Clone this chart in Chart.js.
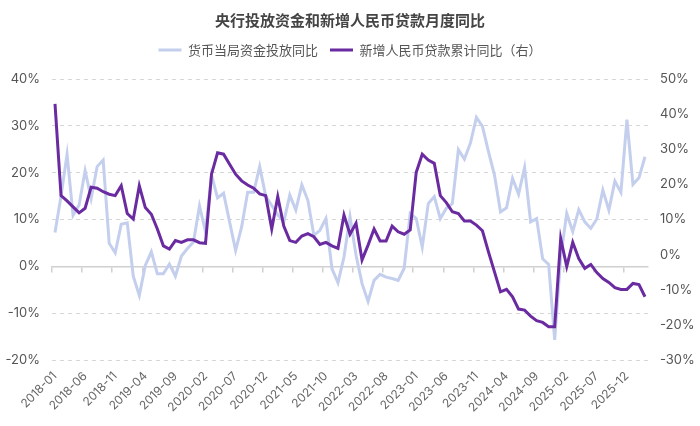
<!DOCTYPE html>
<html>
<head>
<meta charset="utf-8">
<script src="https://cdn.jsdelivr.net/npm/chart.js@4.4.1/dist/chart.umd.min.js"></script>
<style>
  html, body { margin: 0; padding: 0; background: #ffffff; }
  #wrap { width: 700px; height: 426px; position: relative; }
</style>
</head>
<body>
<div id="wrap"><canvas id="c"></canvas></div>
<script>
const months = [
  "2018-01","2018-02","2018-03","2018-04","2018-05","2018-06","2018-07","2018-08","2018-09","2018-10","2018-11","2018-12",
  "2019-01","2019-02","2019-03","2019-04","2019-05","2019-06","2019-07","2019-08","2019-09","2019-10","2019-11","2019-12",
  "2020-01","2020-02","2020-03","2020-04","2020-05","2020-06","2020-07","2020-08","2020-09","2020-10","2020-11","2020-12",
  "2021-01","2021-02","2021-03","2021-04","2021-05","2021-06","2021-07","2021-08","2021-09","2021-10","2021-11","2021-12",
  "2022-01","2022-02","2022-03","2022-04","2022-05","2022-06","2022-07","2022-08","2022-09","2022-10","2022-11","2022-12",
  "2023-01","2023-02","2023-03","2023-04","2023-05","2023-06","2023-07","2023-08","2023-09","2023-10","2023-11","2023-12",
  "2024-01","2024-02","2024-03","2024-04","2024-05","2024-06","2024-07","2024-08","2024-09","2024-10","2024-11","2024-12",
  "2025-01","2025-02","2025-03","2025-04","2025-05","2025-06","2025-07","2025-08","2025-09","2025-10","2025-11","2025-12",
  "2026-01","2026-02","2026-03"
];

// 货币当局资金投放同比 (left axis, %)
const pbocInjection = [
  7.2, 15.0, 23.9, 10.9, 13.1, 20.4, 14.5, 21.3, 22.7, 4.9, 2.9, 9.0,
  9.3, -2.1, -6.2, 0.2, 3.1, -1.6, -1.6, 0.5, -2.1, 2.2, 3.8, 5.2,
  12.9, 7.4, 19.5, 14.6, 15.6, 9.5, 3.4, 8.4, 15.8, 15.8, 21.3, 15.0,
  13.0, 11.0, 9.5, 15.2, 12.0, 17.4, 14.1, 6.6, 7.7, 10.2, -0.5, -3.5,
  2.0, 10.6, 2.4, -3.7, -7.5, -3.0, -1.7, -2.3, -2.6, -3.0, -0.4, 11.3,
  10.2, 4.1, 13.4, 14.9, 10.2, 12.4, 13.4, 24.9, 22.9, 26.3, 31.8, 29.9,
  24.5, 19.5, 11.6, 12.5, 18.8, 15.4, 21.1, 9.5, 10.2, 1.6, 0.4, -15.7,
  2.0, 11.3, 7.4, 12.1, 9.5, 8.1, 10.1, 16.3, 12.0, 18.2, 15.8, 31.3,
  17.5, 18.9, 23.4
];

// 新增人民币贷款累计同比 (right axis, %)
const newLoansCum = [
  42.9, 16.8, 15.3, 13.6, 11.9, 13.2, 19.2, 18.9, 17.9, 17.2, 16.8, 19.6,
  11.7, 10.1, 19.6, 13.4, 11.5, 7.3, 2.5, 1.6, 4.0, 3.5, 4.2, 4.2,
  3.4, 3.2, 22.9, 29.0, 28.6, 25.7, 22.9, 21.0, 19.8, 18.9, 17.3, 16.8,
  7.3, 16.5, 8.1, 4.0, 3.5, 5.3, 6.0, 5.1, 2.9, 3.5, 2.5, 1.8,
  11.3, 5.8, 8.9, -1.5, 2.7, 7.3, 3.9, 3.9, 8.1, 6.5, 5.8, 7.0,
  23.4, 28.6, 26.9, 26.0, 16.8, 14.8, 12.2, 11.7, 9.6, 9.6, 8.4, 6.8,
  0.8, -4.9, -10.6, -9.9, -12.0, -15.5, -15.8, -17.5, -18.8, -19.3, -20.5, -20.5,
  4.6, -3.4, 3.5, -1.1, -3.9, -2.8, -5.1, -6.8, -7.9, -9.4, -9.9, -9.9,
  -8.2, -8.5, -12.0
];

const leftTicks = { min: -20, max: 40, step: 10 };
const rightTicks = { min: -30, max: 50, step: 10 };
const seriesNames = ["货币当局资金投放同比", "新增人民币贷款累计同比（右）"];
const titleText = "央行投放资金和新增人民币贷款月度同比";
const labelEvery = 5;

const numFont = "Inter, 'Noto Sans', 'DejaVu Sans', sans-serif";
const cjkFont = "'Noto Sans CJK SC', 'Noto Sans', sans-serif";

const legendSpacer = {
  id: 'legendSpacer',
  beforeLayout(chart) {
    const lg = chart.legend;
    if (lg && !lg._spaced) {
      const f = lg.fit;
      lg.fit = function () { f.call(this); this.height += 12.5; };
      lg._spaced = true;
    }
  }
};

new Chart(document.getElementById('c'), {
  type: 'line',
  data: {
    labels: months,
    datasets: [
      {
        label: seriesNames[0],
        data: pbocInjection,
        yAxisID: 'y',
        xAxisID: 'x',
        borderColor: '#c4cfee',
        backgroundColor: '#c4cfee',
        borderWidth: 3,
        pointRadius: 0,
        tension: 0,
        order: 1
      },
      {
        label: seriesNames[1],
        data: newLoansCum,
        yAxisID: 'y1',
        xAxisID: 'x',
        borderColor: '#6a2ba1',
        backgroundColor: '#6a2ba1',
        borderWidth: 3,
        pointRadius: 0,
        tension: 0,
        order: 0
      }
    ]
  },
  options: {
    responsive: true,
    maintainAspectRatio: false,
    animation: false,
    layout: { padding: 0 },
    plugins: {
      tooltip: { enabled: false },
      title: {
        display: true,
        text: titleText,
        color: '#444444',
        font: { family: cjkFont, size: 15, weight: 'bold' },
        padding: { top: 11, bottom: 2.5 }
      },
      legend: {
        display: true,
        position: 'top',
        labels: {
          boxWidth: 23,
          boxHeight: 3,
          padding: 12,
          color: '#555555',
          font: { family: cjkFont, size: 13 },
          sort: (a, b) => a.datasetIndex - b.datasetIndex,
          generateLabels(chart) {
            const items = Chart.defaults.plugins.legend.labels.generateLabels(chart);
            items.forEach(it => { it.lineWidth = 0; });
            return items;
          }
        }
      }
    },
    scales: {
      x: {
        type: 'category',
        position: 'bottom',
        offset: true,
        grid: { display: false, drawTicks: false },
        border: { display: false },
        ticks: {
          autoSkip: false,
          maxRotation: 45,
          minRotation: 45,
          padding: 9,
          color: '#666666',
          font: { family: numFont, size: 12 },
          callback: function (val, idx) { return idx % labelEvery === 0 ? months[idx] : ''; }
        },
        afterFit(s) { s.height = 66; }
      },
      x2: {
        type: 'category',
        axis: 'x',
        labels: months,
        position: { y: 0 },
        offset: true,
        grid: {
          display: true,
          offset: true,
          drawOnChartArea: false,
          drawTicks: true,
          tickLength: 5,
          lineWidth: 1.5,
          color: (ctx) => (ctx.index % labelEvery === 0 ? '#d0d0d0' : 'rgba(0,0,0,0)')
        },
        border: { display: true, color: '#d0d0d0', width: 1.5 },
        ticks: { display: false }
      },
      y: {
        type: 'linear',
        position: 'left',
        min: leftTicks.min,
        max: leftTicks.max,
        ticks: {
          stepSize: leftTicks.step,
          padding: 12,
          color: '#555555',
          font: { family: numFont, size: 13 },
          callback: (v) => v + '%'
        },
        grid: { color: '#d6d6d6', lineWidth: 1, drawTicks: false, borderDash: [4, 4] },
        border: { display: true, width: 0, color: 'rgba(0,0,0,0)', dash: [4, 4], dashOffset: 0 },
        afterFit(s) { s.width = 52; }
      },
      y1: {
        type: 'linear',
        position: 'right',
        min: rightTicks.min,
        max: rightTicks.max,
        ticks: {
          stepSize: rightTicks.step,
          padding: 12,
          color: '#555555',
          font: { family: numFont, size: 13 },
          callback: (v) => v + '%'
        },
        grid: { drawOnChartArea: false, drawTicks: false },
        border: { display: false },
        afterFit(s) { s.width = 52; }
      }
    }
  },
  plugins: [legendSpacer]
});
</script>
</body>
</html>
